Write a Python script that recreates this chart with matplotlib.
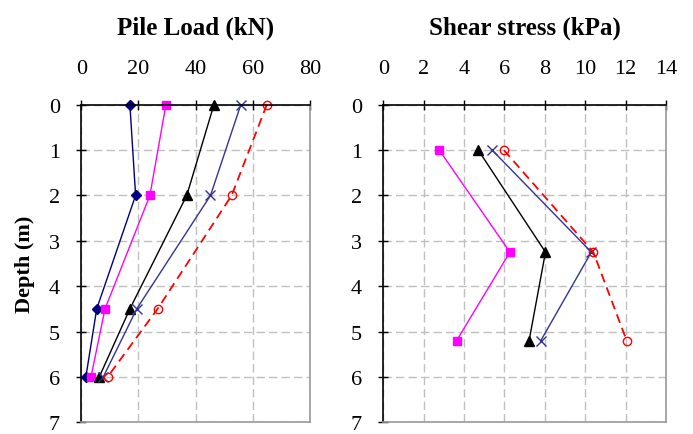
import matplotlib
matplotlib.use("Agg")
import matplotlib.pyplot as plt

plt.rcParams['font.family'] = ['Liberation Serif', 'DejaVu Serif']

# Pile load (kN) vs depth (m)
load_depth = [0, 2, 4.5, 6]
load_s1 = [17.0, 19.0, 5.4, 1.6]
load_s2 = [29.6, 24.0, 8.3, 3.4]
load_s3 = [46.4, 36.9, 17.0, 6.3]
load_s4 = [55.8, 45.2, 19.4, 7.7]
load_s5 = [64.9, 52.6, 26.7, 9.2]

# Shear stress (kPa) vs depth (m)
shear_depth = [1, 3.25, 5.2]
shear_s2 = [2.77, 6.27, 3.63]
shear_s3 = [4.70, 8.03, 7.22]
shear_s4 = [5.39, 10.3, 7.8]
shear_s5 = [5.97, 10.4, 12.05]

load_ticks = [0, 20, 40, 60, 80]
shear_ticks = [0, 2, 4, 6, 8, 10, 12, 14]
depth_ticks = [0, 1, 2, 3, 4, 5, 6, 7]

fig = plt.figure(figsize=(6.93, 4.35), dpi=100)
ax1 = fig.add_axes([0.1173, 0.027, 0.330, 0.730])
ax2 = fig.add_axes([0.5531, 0.027, 0.408, 0.730])

styles = {
    's1': dict(color='#000080', marker='D', ms=5.5, lw=1.0),
    's2': dict(color='#FF00FF', marker='s', ms=6, lw=1.0),
    's3': dict(color='black', marker='^', ms=6.5, lw=1.0),
    's4': dict(color='#333399', marker='x', ms=7, mew=1.0, lw=1.0),
    's5': dict(color='red', marker='o', ms=6, mfc='none', mew=1.0, lw=1.3,
               ls=(0, (5, 3))),
}

ax1.plot(load_s1, load_depth, clip_on=False, **styles['s1'])
ax1.plot(load_s2, load_depth, clip_on=False, **styles['s2'])
ax1.plot(load_s3, load_depth, clip_on=False, **styles['s3'])
ax1.plot(load_s4, load_depth, clip_on=False, **styles['s4'])
ax1.plot(load_s5, load_depth, clip_on=False, **styles['s5'])

ax2.plot(shear_s2, shear_depth, clip_on=False, **styles['s2'])
ax2.plot(shear_s3, shear_depth, clip_on=False, **styles['s3'])
ax2.plot(shear_s4, shear_depth, clip_on=False, **styles['s4'])
ax2.plot(shear_s5, shear_depth, clip_on=False, **styles['s5'])

for ax, xt, title in [(ax1, load_ticks, 'Pile Load (kN)'),
                      (ax2, shear_ticks, 'Shear stress (kPa)')]:
    ax.set_xlim(xt[0], xt[-1])
    ax.set_ylim(7, 0)
    ax.set_xticks(xt)
    ax.set_yticks(depth_ticks)
    ax.xaxis.tick_top()
    ax.tick_params(axis='both', direction='inout', length=7, width=1,
                   labelsize=16, color='black')
    ax.tick_params(axis='x', pad=16)
    ax.tick_params(axis='y', pad=12)
    ax.grid(True, color='#c0c0c0', ls=(0, (6, 3)), lw=1.0)
    ax.set_axisbelow(True)
    ax.spines['left'].set_color('black')
    ax.spines['top'].set_color('black')
    ax.spines['right'].set_color('#999999')
    ax.spines['bottom'].set_color('#999999')
    for s in ax.spines.values():
        s.set_linewidth(1.2)
    ax.set_title(title, fontsize=18, fontweight='bold', pad=18)

ax1.set_ylabel('Depth (m)', fontsize=16, fontweight='bold', labelpad=10)

fig.savefig('out.png', dpi=100)
